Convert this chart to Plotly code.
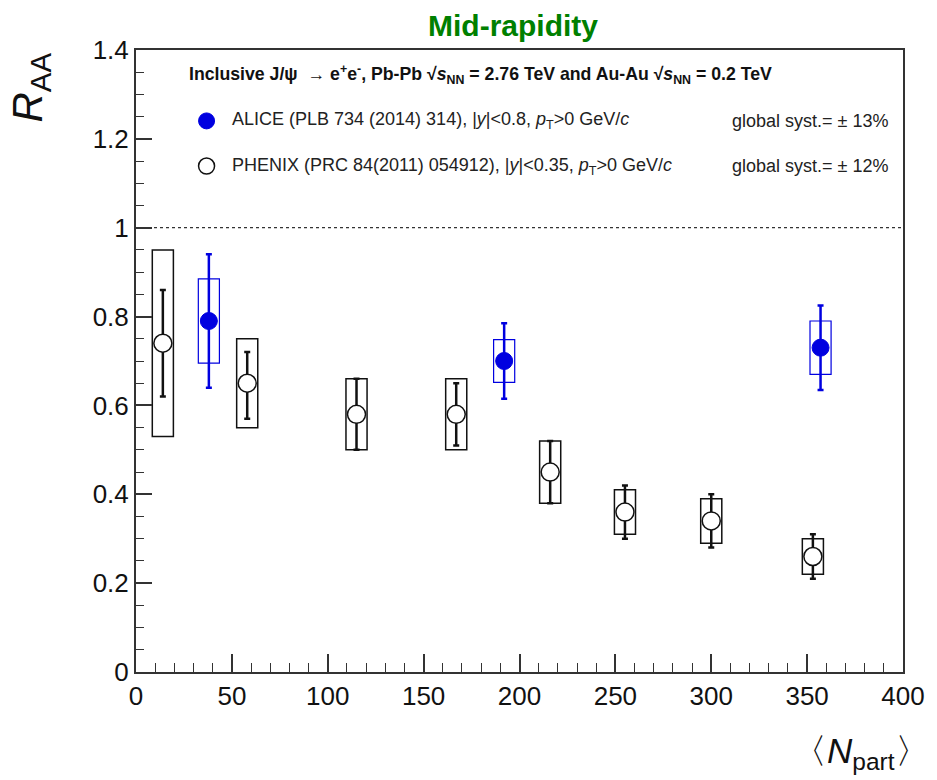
import plotly.graph_objects as go

# ---------------- data ----------------
phenix_npart = [14, 58, 115, 167, 216, 255, 300, 353]
phenix_raa = [0.74, 0.65, 0.58, 0.58, 0.45, 0.36, 0.34, 0.26]
phenix_stat_up = [0.12, 0.07, 0.08, 0.07, 0.07, 0.06, 0.06, 0.05]
phenix_stat_lo = [0.12, 0.08, 0.08, 0.07, 0.07, 0.06, 0.06, 0.05]
phenix_syst = [0.21, 0.10, 0.08, 0.08, 0.07, 0.05, 0.05, 0.04]

alice_npart = [38, 192, 357]
alice_raa = [0.79, 0.70, 0.73]
alice_stat = [0.15, 0.085, 0.095]
alice_syst = [0.095, 0.048, 0.06]

x_ticks = [0, 50, 100, 150, 200, 250, 300, 350, 400]
y_ticks = [0, 0.2, 0.4, 0.6, 0.8, 1.0, 1.2, 1.4]
y_tick_text = ["0", "0.2", "0.4", "0.6", "0.8", "1", "1.2", "1.4"]
unity = 1.0
box_half = 5.5

BLUE = "#0000e0"
FONT = "Liberation Sans, Arial, sans-serif"

fig = go.Figure()

shapes = []
# systematic boxes
for x, y, s in zip(phenix_npart, phenix_raa, phenix_syst):
    shapes.append(dict(type="rect", xref="x", yref="y", x0=x - box_half, x1=x + box_half,
                       y0=y - s, y1=y + s, line=dict(color="#111", width=1.5),
                       fillcolor="rgba(0,0,0,0)", layer="below"))
for x, y, s in zip(alice_npart, alice_raa, alice_syst):
    shapes.append(dict(type="rect", xref="x", yref="y", x0=x - box_half, x1=x + box_half,
                       y0=y - s, y1=y + s, line=dict(color=BLUE, width=1.2),
                       fillcolor="rgba(0,0,0,0)", layer="below"))
# dotted line at unity
shapes.append(dict(type="line", xref="paper", yref="y", x0=0, x1=1, y0=unity, y1=unity,
                   line=dict(color="#333", width=1.2, dash="dot")))
# legend symbols
shapes.append(dict(type="circle", xref="paper", yref="paper", xsizemode="pixel", ysizemode="pixel",
                   xanchor=0.092, yanchor=0.886, x0=-8, x1=8, y0=-8, y1=8,
                   fillcolor=BLUE, line=dict(color=BLUE, width=1)))
shapes.append(dict(type="circle", xref="paper", yref="paper", xsizemode="pixel", ysizemode="pixel",
                   xanchor=0.092, yanchor=0.8135, x0=-8, x1=8, y0=-8, y1=8,
                   fillcolor="white", line=dict(color="#111", width=1.5)))

fig.add_trace(go.Scatter(
    x=phenix_npart, y=phenix_raa, mode="markers", name="PHENIX",
    marker=dict(symbol="circle", size=18, color="white", line=dict(color="#111", width=1.5)),
    error_y=dict(type="data", symmetric=False, array=phenix_stat_up, arrayminus=phenix_stat_lo,
                 color="#111", thickness=2.5, width=3),
))
fig.add_trace(go.Scatter(
    x=alice_npart, y=alice_raa, mode="markers", name="ALICE",
    marker=dict(symbol="circle", size=17, color=BLUE, line=dict(color=BLUE, width=1)),
    error_y=dict(type="data", array=alice_stat, color=BLUE, thickness=2.5, width=3),
))

LEG_FONT = dict(family=FONT, size=18, color="#222")
annotations = [
    dict(text="<b>Mid-rapidity</b>", xref="paper", yref="paper", x=0.492, y=1.04,
         showarrow=False, font=dict(family=FONT, size=30, color="#008000"),
         xanchor="center", yanchor="middle"),
    dict(text="<b>Inclusive J/ψ  → e<sup>+</sup>e<sup>-</sup>, Pb-Pb √<i>s</i><sub>NN</sub> = 2.76 TeV and Au-Au √<i>s</i><sub>NN</sub> = 0.2 TeV</b>",
         xref="paper", yref="paper", x=0.066, y=0.96, showarrow=False,
         font=dict(family=FONT, size=17.7, color="#111"),
         xanchor="left", yanchor="middle"),
    dict(text="ALICE (PLB 734 (2014) 314), |<i>y</i>|&lt;0.8, <i>p</i><sub>T</sub>&gt;0 GeV/<i>c</i>",
         xref="paper", yref="paper", x=0.123, y=0.886, showarrow=False,
         font=LEG_FONT, xanchor="left", yanchor="middle"),
    dict(text="PHENIX (PRC 84(2011) 054912), |<i>y</i>|&lt;0.35, <i>p</i><sub>T</sub>&gt;0 GeV/<i>c</i>",
         xref="paper", yref="paper", x=0.123, y=0.8135, showarrow=False,
         font=LEG_FONT, xanchor="left", yanchor="middle"),
    dict(text="global syst.= ± 13%", xref="paper", yref="paper", x=0.983, y=0.886,
         showarrow=False, font=LEG_FONT, xanchor="right", yanchor="middle"),
    dict(text="global syst.= ± 12%", xref="paper", yref="paper", x=0.983, y=0.8135,
         showarrow=False, font=LEG_FONT, xanchor="right", yanchor="middle"),
    dict(text="<i>R</i><sub>AA</sub>", xref="paper", yref="paper", x=-0.138, y=0.94,
         textangle=-90, showarrow=False, font=dict(family=FONT, size=42, color="#111"),
         xanchor="center", yanchor="middle"),
    dict(text="〈<i>N</i><sub>part</sub>〉", xref="paper", yref="paper", x=0.945, y=-0.13,
         showarrow=False, font=dict(family=FONT, size=35, color="#111"),
         xanchor="center", yanchor="middle"),
]

fig.update_layout(
    width=937, height=780,
    margin=dict(l=136, r=31, t=50, b=108),
    paper_bgcolor="white", plot_bgcolor="white",
    showlegend=False,
    shapes=shapes, annotations=annotations,
    font=dict(family=FONT, color="#111"),
    xaxis=dict(range=[0, 400], tickvals=x_ticks, ticks="inside", ticklen=18, tickwidth=1.5,
               tickcolor="#333", showgrid=False, zeroline=False, showline=True, mirror=True,
               linecolor="#333", linewidth=2, tickfont=dict(size=26, color="#111"),
               minor=dict(dtick=10, ticks="inside", ticklen=9, tickwidth=1.2, tickcolor="#333")),
    yaxis=dict(range=[0, 1.4], tickvals=y_ticks, ticktext=y_tick_text, ticks="inside",
               ticklen=16, tickwidth=1.5, tickcolor="#333", showgrid=False, zeroline=False,
               showline=True, mirror=True, linecolor="#333", linewidth=2,
               tickfont=dict(size=26, color="#111"),
               minor=dict(dtick=0.05, tick0=0, ticks="inside", ticklen=8, tickwidth=1.2, tickcolor="#333")),
)

fig.write_html("out.html")
